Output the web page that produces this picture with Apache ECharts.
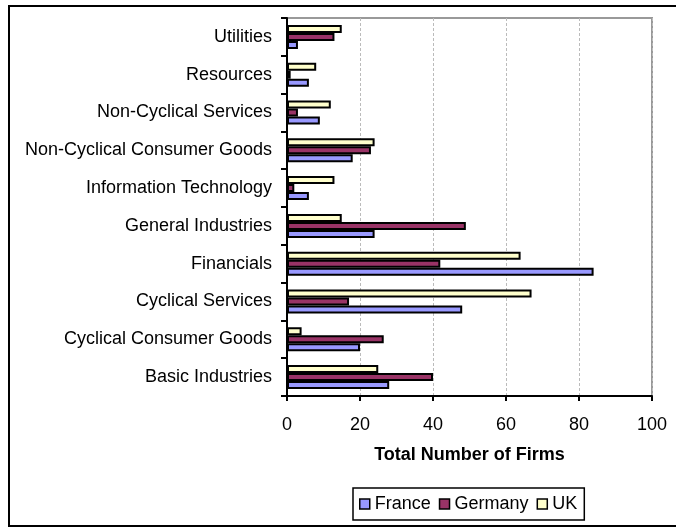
<!DOCTYPE html>
<html>
<head>
<meta charset="utf-8">
<script src="https://cdn.jsdelivr.net/npm/echarts@6/dist/echarts.min.js"></script>
<style>
html,body{margin:0;padding:0;background:#fff;}
#chart{width:676px;height:528px;}
</style>
</head>
<body>
<div id="chart"></div>
<script>
const categories = ['Basic Industries','Cyclical Consumer Goods','Cyclical Services','Financials','General Industries','Information Technology','Non-Cyclical Consumer Goods','Non-Cyclical Services','Resources','Utilities'];
const france  = [28, 20, 48, 84, 24, 6, 18, 9, 6, 3];
const germany = [40, 26.5, 17, 42, 49, 2, 23, 3, 1, 13];
const uk      = [25, 4, 67, 64, 15, 13, 24, 12, 8, 15];
const xTicks = [0, 20, 40, 60, 80, 100];

const FONT = 'Liberation Sans, Arial, sans-serif';
const chart = echarts.init(document.getElementById('chart'), null, {renderer:'canvas'});
function barSeries(name, data, color){
  return {
    name: name, type: 'bar', data: data,
    barWidth: 8, barGap: '0%',
    itemStyle: {color: color, borderColor: '#000', borderWidth: 2},
    emphasis: {disabled: true}
  };
}
chart.setOption({
  animation: false,
  textStyle: {fontFamily: FONT},
  graphic: [{
    type: 'rect',
    shape: {x: 9, y: 6, width: 700, height: 520},
    style: {fill: 'none', stroke: '#000', lineWidth: 2},
    silent: true
  }],
  grid: {left: 287, top: 18, right: 24, bottom: 132, show: true, borderColor: '#999', borderWidth: 2, containLabel: false},
  xAxis: {
    type: 'value', min: xTicks[0], max: xTicks[xTicks.length-1], interval: 20,
    name: 'Total Number of Firms', nameLocation: 'middle', nameGap: 50,
    nameTextStyle: {fontSize: 18, fontWeight: 'bold', color: '#000', fontFamily: FONT},
    axisLine: {show: true, lineStyle: {color: '#000', width: 2}},
    axisTick: {show: true, length: 5, lineStyle: {color: '#000', width: 2}},
    axisLabel: {fontSize: 18, color: '#000', margin: 20, fontFamily: FONT},
    splitLine: {show: true, lineStyle: {color: '#bbb', type: [3, 2], width: 1}}
  },
  yAxis: {
    type: 'category', data: categories,
    axisLine: {show: true, lineStyle: {color: '#000', width: 2}},
    axisTick: {show: true, length: 6, alignWithLabel: false, lineStyle: {color: '#000', width: 2}},
    axisLabel: {fontSize: 18, color: '#000', margin: 15, fontFamily: FONT, interval: 0},
    splitLine: {show: false}
  },
  legend: {
    data: ['France','Germany','UK'],
    left: 353, top: 488,
    orient: 'horizontal',
    padding: [7, 7, 7, 6],
    itemGap: 8, itemWidth: 10, itemHeight: 10,
    icon: 'rect',
    borderColor: '#000', borderWidth: 1.5,
    itemStyle: {borderColor: '#000', borderWidth: 1.5},
    textStyle: {fontSize: 18, color: '#000', fontFamily: FONT}
  },
  series: [
    barSeries('UK', uk, '#FFFFCC'),
    barSeries('Germany', germany, '#993366'),
    barSeries('France', france, '#9999FF')
  ]
});
</script>
</body>
</html>
